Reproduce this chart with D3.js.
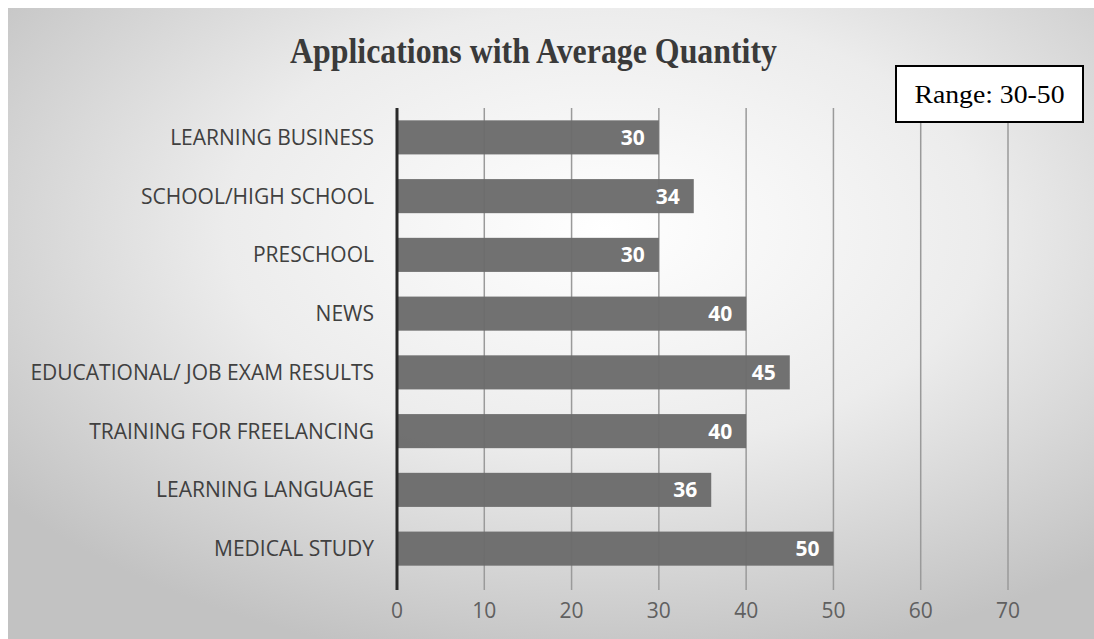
<!DOCTYPE html>
<html lang="en">
<head>
<meta charset="utf-8">
<title>Applications with Average Quantity</title>
<script src="https://d3js.org/d3.v7.min.js"></script>
<style>
  body { margin: 0; background: #fff; }
  .cat { font-family: "Open Sans", sans-serif; font-size: 21px; fill: #404040; }
  .tick-lbl { font-family: "Open Sans", sans-serif; font-size: 21px; fill: #606060; }
  .val { font-family: "Open Sans", sans-serif; font-size: 21px; font-weight: bold; fill: #fff; }
</style>
</head>
<body>
<svg width="1094" height="639"></svg>
<script>
var categories = ["LEARNING BUSINESS", "SCHOOL/HIGH SCHOOL", "PRESCHOOL", "NEWS",
  "EDUCATIONAL/ JOB EXAM RESULTS", "TRAINING FOR FREELANCING", "LEARNING LANGUAGE", "MEDICAL STUDY"];
var values = [30, 34, 30, 40, 45, 40, 36, 50];
var xTicks = [0, 10, 20, 30, 40, 50, 60, 70];

var svg = d3.select("svg");

// background with radial shading
var defs = svg.append("defs");
var grad = defs.append("radialGradient").attr("id", "bg")
  .attr("cx", "55%").attr("cy", "35%").attr("r", "70%");
grad.append("stop").attr("offset", "0%").attr("stop-color", "#ffffff");
grad.append("stop").attr("offset", "50%").attr("stop-color", "#ececec");
grad.append("stop").attr("offset", "100%").attr("stop-color", "#c2c2c2");

svg.append("rect").attr("x", 8).attr("y", 8).attr("width", 1086).attr("height", 631)
  .attr("fill", "url(#bg)");

var x = d3.scaleLinear().domain([0, 70]).range([397, 1008]);
var y = d3.scaleBand().domain(categories).range([108, 578]).paddingInner(0.42).paddingOuter(0.21);

// gridlines
svg.append("g").selectAll("line").data(xTicks.slice(1)).join("line")
  .attr("x1", d => x(d)).attr("x2", d => x(d))
  .attr("y1", 108).attr("y2", 590)
  .attr("stroke", "#9a9a9a").attr("stroke-width", 1.5);

// bars
svg.append("g").selectAll("rect").data(values).join("rect")
  .attr("x", x(0))
  .attr("y", (d, i) => y(categories[i]))
  .attr("width", d => x(d) - x(0))
  .attr("height", y.bandwidth())
  .attr("fill", "#6b6b6b").attr("fill-opacity", 0.96);

// value labels
svg.append("g").selectAll("text").data(values).join("text")
  .attr("class", "val")
  .attr("x", d => x(d) - 14)
  .attr("y", (d, i) => y(categories[i]) + y.bandwidth() / 2)
  .attr("dy", "0.36em")
  .attr("text-anchor", "end")
  .text(d => d);

// axis line
svg.append("line").attr("x1", x(0)).attr("x2", x(0)).attr("y1", 108).attr("y2", 590)
  .attr("stroke", "#2a2a2a").attr("stroke-width", 3);

// category labels
svg.append("g").selectAll("text").data(categories).join("text")
  .attr("class", "cat")
  .attr("x", 374)
  .attr("y", d => y(d) + y.bandwidth() / 2)
  .attr("dy", "0.36em")
  .attr("text-anchor", "end")
  .text(d => d);

// x tick labels
svg.append("g").selectAll("text").data(xTicks).join("text")
  .attr("class", "tick-lbl")
  .attr("x", d => x(d))
  .attr("y", 618)
  .attr("text-anchor", "middle")
  .text(d => d);

// title
svg.append("text").attr("x", 290).attr("y", 63)
  .attr("font-family", "Liberation Serif, serif").attr("font-weight", "bold")
  .attr("font-size", 35).attr("fill", "#3a3a3a")
  .attr("textLength", 487).attr("lengthAdjust", "spacingAndGlyphs")
  .text("Applications with Average Quantity");

// range box
svg.append("rect").attr("x", 896).attr("y", 66).attr("width", 187).attr("height", 56)
  .attr("fill", "#fff").attr("stroke", "#000").attr("stroke-width", 2);
svg.append("text").attr("x", 989.5).attr("y", 94).attr("dy", "0.35em")
  .attr("text-anchor", "middle")
  .attr("font-family", "Liberation Serif, serif").attr("font-size", 26).attr("fill", "#000")
  .attr("textLength", 150).attr("lengthAdjust", "spacingAndGlyphs")
  .text("Range: 30-50");
</script>
</body>
</html>
